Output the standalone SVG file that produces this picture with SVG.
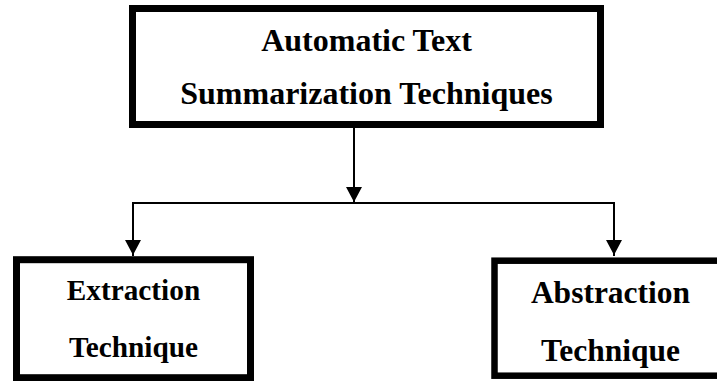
<svg xmlns="http://www.w3.org/2000/svg" width="717" height="381" viewBox="0 0 717 381">
<defs>
<style>
.box{fill:#fff;stroke:#000;stroke-width:7}
.t{font-family:'Liberation Serif','Times New Roman',Times,serif;font-weight:700;fill:#000;text-anchor:middle}
.c{fill:none;stroke:#000;stroke-width:2}
</style>
<marker id="ah" markerUnits="userSpaceOnUse" markerWidth="16" markerHeight="16" viewBox="0 0 16 16" refX="15" refY="8" orient="auto">
<path d="M0,0 L15,8 L0,16 Z" fill="#000"/>
</marker>
</defs>
<rect width="717" height="381" fill="#fff"/>
<g id="connectors">
<path class="c" d="M354,128 V202" marker-end="url(#ah)"/>
<path class="c" d="M133,256 V203 H614 V256"/>
<path class="c" d="M133,203 V255" marker-end="url(#ah)"/>
<path class="c" d="M614,203 V255" marker-end="url(#ah)"/>
</g>
<g id="root">
<rect class="box" x="132.5" y="8.5" width="468" height="116"/>
<text class="t" x="366.5" y="51" font-size="32">Automatic Text</text>
<text class="t" x="366.5" y="104" font-size="32">Summarization Techniques</text>
</g>
<g id="extraction">
<rect class="box" x="16.5" y="259.7" width="234" height="118"/>
<text class="t" x="133.5" y="300" font-size="29.3">Extraction</text>
<text class="t" x="133.5" y="357" font-size="29.3">Technique</text>
</g>
<g id="abstraction">
<rect class="box" x="494.5" y="260.7" width="232" height="115" style="stroke-width:6.5"/>
<text class="t" x="610.5" y="303" font-size="31.5">Abstraction</text>
<text class="t" x="610.5" y="361" font-size="31.5">Technique</text>
</g>
</svg>
